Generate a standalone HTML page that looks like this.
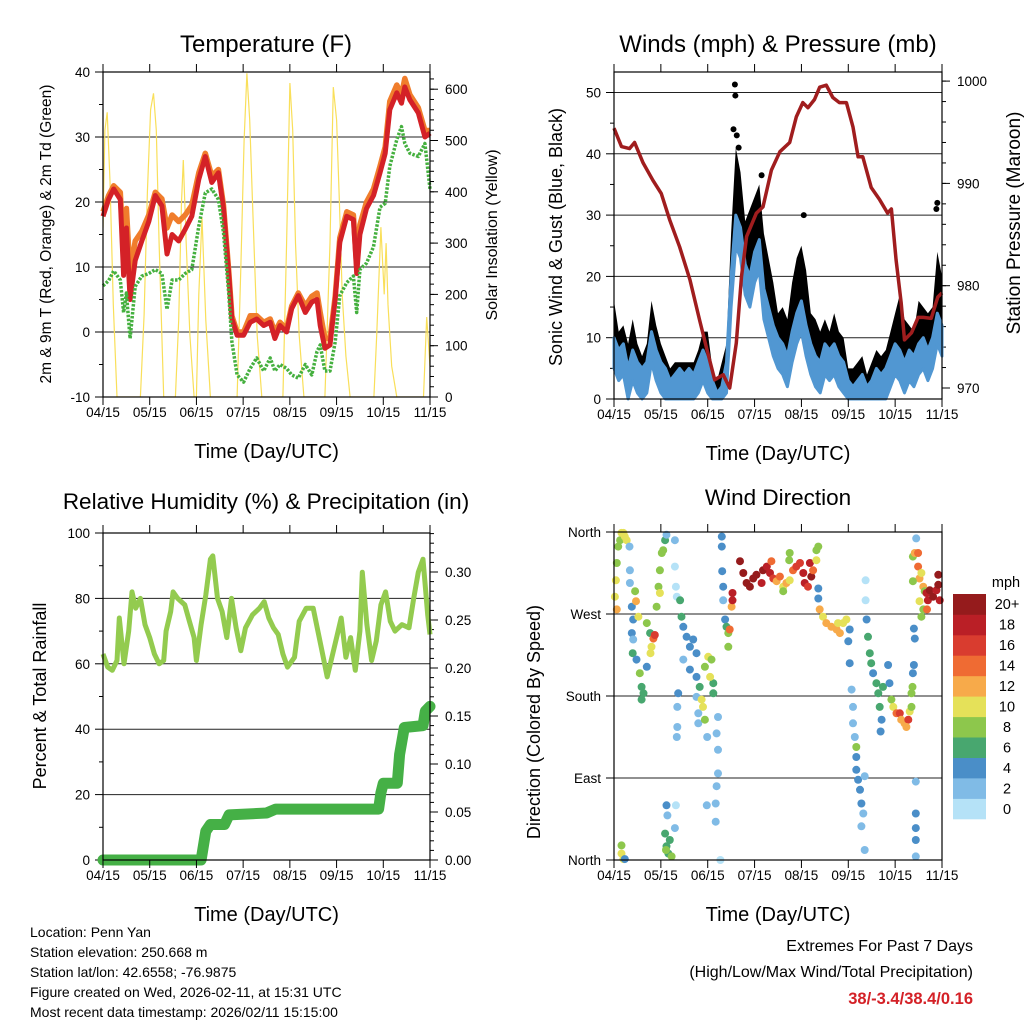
<!DOCTYPE html>
<html><head><meta charset="utf-8"><style>
html,body{margin:0;padding:0;background:#fff}
svg{display:block;font-family:"Liberation Sans",Arial,sans-serif}
</style></head><body>
<svg id="chart" width="1024" height="1024" viewBox="0 0 1024 1024" xmlns="http://www.w3.org/2000/svg"></svg>
<script>
// ---------- shared x ticks (tick index units: one unit per labelled tick) ----------
const xTickLabels = ['04/15','05/15','06/15','07/15','08/15','09/15','10/15','11/15'];

// ---------- Temperature panel ----------
const tempT = [0,.12,.23,.37,.44,.5,.58,.69,.83,.98,1.12,1.26,1.37,1.48,1.62,1.76,1.9,2.05,2.19,2.33,2.47,2.58,2.69,2.76,2.87,3.01,3.15,3.29,3.44,3.58,3.68,3.79,3.93,4.04,4.18,4.33,4.47,4.58,4.65,4.75,4.86,4.97,5.07,5.22,5.36,5.43,5.5,5.64,5.79,5.93,6.04,6.14,6.29,6.39,6.46,6.57,6.75,6.89,7];
const temp2m = [17.8,20.4,22,20.4,8.7,16,5,11,14,17,21,19.4,12,15,14,15.8,17.8,23.5,27,23,24.5,19,9,2,-0.5,-0.5,1.5,2,1,1.5,-1,1,0,3.6,5.6,3,4.6,5,1,-2.5,-2,5,13.8,17.8,17.3,9,15,19,21,24.5,27.5,34.2,36.8,35.2,37.7,35.7,33.7,30,30.6];
const temp9m = [18.5,21,22.5,21.5,12,19,9,14,15.5,18,21.5,20.5,16,18,17,18,19.5,24.5,27.5,24,25,19.5,9.5,2.5,0,0,2.5,2.5,1.5,2,0,1.5,0.5,4,6,4,5.5,6,3,-1,-1,5.5,14.5,18.5,18,10,16.5,20,22,25.5,28.5,35.5,38,36.5,39,36.5,34.5,31,31];
const dew2m = [7.1,7.9,9.4,8,3,6,-1,7,8.6,9,9.6,9,3.5,8,8,9,9.6,16.3,21.4,22,20.4,15.3,6,-1.5,-6.6,-7.7,-5.6,-4,-6,-4,-6,-5,-5.6,-6.6,-7.1,-5,-6.6,-3,-2,-6,-6,-1.5,5.6,7.6,8.6,3,9.6,10.6,13.1,19.2,19.8,25.5,29.6,31.6,29,27.5,27,29,22];
const solarT = [0,.04,.09,.15,.22,.3,.8,.88,.95,1.02,1.08,1.14,1.2,1.3,1.55,1.62,1.68,1.72,1.78,1.86,1.95,2.0,2.05,2.12,2.2,2.3,2.45,2.6,2.72,2.87,2.95,3.02,3.08,3.14,3.2,3.3,3.4,3.7,3.85,3.93,4.0,4.06,4.12,4.2,4.3,4.4,4.75,4.86,4.93,5.0,5.06,5.12,5.2,5.29,5.4,5.8,5.86,5.95,6.02,6.06,6.1,6.18,6.29,6.5,6.86,6.93,7];
const solarV = [330,520,555,420,180,0,0,160,400,560,592,520,300,0,0,150,380,462,300,120,0,0,200,350,150,0,0,0,0,0,250,500,631,540,380,120,0,0,0,300,612,520,300,120,0,0,0,300,604,540,380,200,80,0,0,0,120,331,200,300,180,60,0,0,0,156,60];

// ---------- Winds panel ----------
const windT = [0,.1,.2,.3,.4,.5,.6,.7,.8,.9,1,1.1,1.2,1.3,1.4,1.5,1.6,1.7,1.8,1.9,2,2.1,2.2,2.3,2.4,2.5,2.6,2.7,2.8,2.9,3,3.1,3.2,3.3,3.4,3.5,3.6,3.7,3.8,3.9,4,4.1,4.2,4.3,4.4,4.5,4.6,4.7,4.8,4.9,5,5.1,5.2,5.3,5.4,5.5,5.6,5.7,5.8,5.9,6,6.1,6.2,6.3,6.4,6.5,6.6,6.7,6.8,6.9,7];
const windSpeed = [10,8,9,5,8,6,5,6,11,8,6,5,3,4,5,4,5,4,6,8,6,3,1,2,6,20,30,28,22,20,24,26,18,15,12,10,9,7,11,14,16,12,9,7,6,9,8,9,7,6,3,2,3,4,2,3,5,4,5,7,9,8,6,8,7,9,10,8,10,14,12];
const windGust = [17,12,13,10,14,10,8,10,17,13,10,8,6,7,7,7,7,7,9,12,12,6,4,7,10,28,42,38,30,32,34,36,28,24,20,15,16,14,20,24,26,22,15,14,12,14,12,15,12,11,6,6,7,8,5,7,9,8,9,12,15,18,14,13,12,17,16,15,16,25,21];
const gustPeakT = [2.58,2.59,2.55,2.62,2.66,3.15,4.05,6.88,6.9];
const gustPeakV = [51.3,49.5,44,43,41,36.5,30,31,32];
const presT = [0,.16,.33,.44,.62,.83,1.01,1.19,1.4,1.62,1.83,1.97,2.15,2.33,2.47,2.61,2.72,2.83,3.04,3.18,3.36,3.54,3.75,3.89,4.03,4.14,4.28,4.39,4.53,4.67,4.81,4.96,5.1,5.21,5.31,5.49,5.67,5.84,5.92,6.02,6.13,6.2,6.35,6.49,6.6,6.77,6.91,7];
const presV = [995.4,993.6,993.4,994,992,990.3,989,986.4,983.8,980.6,976.6,974,970.8,971.3,970,974.4,980.9,984.8,987.1,987.7,991.3,993.1,994,996.5,997.9,997.4,998.2,999.4,999.6,998.4,997.9,997.9,995.5,992.6,992.6,989.6,988.4,987.1,987.5,982.5,978.3,974.7,975.4,976.9,976.9,976.8,978.9,979.3];

// ---------- Humidity / precip panel ----------
const rhT = [0,.1,.2,.3,.35,.45,.55,.62,.7,.8,.9,1,1.1,1.2,1.3,1.35,1.45,1.5,1.6,1.75,1.85,1.95,2,2.1,2.2,2.3,2.35,2.45,2.55,2.65,2.75,2.85,2.95,3.05,3.2,3.35,3.45,3.55,3.65,3.75,3.85,3.95,4.1,4.2,4.35,4.5,4.6,4.7,4.8,4.9,5,5.1,5.2,5.3,5.4,5.5,5.55,5.65,5.75,5.85,5.95,6.05,6.15,6.25,6.4,6.55,6.65,6.75,6.85,6.95,7];
const rhV = [63,59,58,61,74,60,70,82,77,80,72,68,63,60,61,70,76,82,80,78,73,68,61,72,81,92,93,80,76,68,80,71,64,71,75,77,79,74,71,69,63,59,62,73,77,77,70,63,56,62,68,74,62,68,58,70,88,72,61,67,78,82,73,70,72,71,80,88,92,75,69];
const rainT = [0,2.1,2.2,2.3,2.6,2.7,3.5,3.7,5.9,5.95,6.0,6.3,6.35,6.45,6.85,6.9,7];
const rainV = [0,0,0.03,0.037,0.037,0.047,0.049,0.053,0.053,0.07,0.08,0.08,0.11,0.138,0.14,0.155,0.16];

// ---------- Wind direction panel ----------
const wdT = [.02,.04,.06,.09,.13,.16,.2,.23,.27,.06,.33,.34,.34,.38,.41,.38,.41,.45,.47,.52,.4,.48,.55,.59,.63,.59,.7,.7,.77,.84,.8,.87,.78,.91,.95,.98,1.02,1.05,1.09,.98,1.12,1.3,1.3,1.32,1.34,1.37,1.35,1.35,1.34,1.41,1.44,1.48,1.55,1.62,1.69,1.76,1.48,1.62,1.76,1.76,1.8,1.8,1.83,1.87,1.9,1.94,2.01,2.08,2.12,2.12,1.94,1.99,2.05,2.22,2.19,2.22,2.22,2.19,2.17,2.17,1.98,2.3,2.3,2.31,2.33,2.33,2.37,2.4,2.44,2.47,2.44,2.51,2.53,2.53,2.27,.16,.16,.2,.23,1.09,1.12,1.16,1.19,1.23,1.11,1.12,1.14,1.3,1.32,2.69,2.76,2.83,2.9,2.97,3.04,3.15,3.18,3.26,3.33,3.36,3.4,3.47,3.54,3.61,3.68,3.75,3.75,3.82,3.89,3.97,4.04,4.07,4.14,4.18,4.21,4.25,4.32,4.32,4.36,4.36,4.36,3.74,3.61,4.39,4.46,4.53,4.64,4.75,4.82,4.89,4.96,4.78,5.03,5.0,5.03,5.07,5.1,5.1,5.14,5.17,5.17,5.17,5.21,5.25,5.28,5.32,5.28,5.35,5.35,5.37,5.37,5.39,5.42,5.46,5.49,5.53,5.6,5.64,5.67,5.71,5.69,5.74,5.85,5.88,5.92,5.96,6.03,6.1,6.13,6.2,6.28,6.24,6.31,6.35,6.35,6.37,6.38,6.4,6.38,6.42,6.49,6.49,6.52,6.56,6.6,6.63,6.67,6.7,6.74,6.81,6.88,6.92,6.92,6.95,6.6,6.56,6.52,6.68,6.45,6.4,6.42,6.44,6.44,6.44,6.44,6.44,6.38];
const wdDir = [289,307,326,344,351,359,359,355,351,275,344,318,304,278,264,249,242,295,284,267,227,220,205,190,183,176,212,260,249,243,234,247,227,278,300,318,337,340,351,293,357,351,322,300,289,183,168,146,135,285,267,256,245,234,242,227,220,209,201,179,161,150,190,176,168,212,223,220,194,183,154,135,201,157,139,121,95,81,62,42,60,355,344,317,300,285,264,256,249,253,234,278,293,285,0,16,7,1,1,29,15,7,22,4,11,60,49,35,60,328,315,304,300,309,313,304,318,322,315,328,309,306,311,300,304,307,337,318,322,326,315,304,300,326,311,318,329,340,344,298,287,329,295,275,267,260,256,253,249,260,264,260,253,240,216,187,168,150,135,124,113,99,88,77,62,51,37,11,92,307,285,264,245,227,216,205,194,183,168,154,141,190,214,194,176,168,161,161,154,150,154,146,163,168,183,190,205,214,333,337,337,322,309,315,300,295,293,285,296,289,296,302,313,285,275,267,284,275,353,254,243,86,51,35,22,4,306];
const wdSpd = [10,10,8,8,8,10,10,10,10,12,2,2,2,4,4,4,2,8,12,10,6,4,8,6,6,6,4,8,6,14,10,16,10,8,8,8,8,8,6,10,2,2,0,0,0,4,2,2,2,6,6,4,4,4,4,4,2,4,4,2,2,2,6,10,10,8,10,8,6,6,8,2,10,2,2,2,2,2,2,2,2,4,4,4,4,2,4,6,8,14,8,12,18,18,0,8,10,10,4,6,6,6,6,8,8,4,2,2,0,20,20,20,20,20,20,18,20,18,18,14,16,12,14,10,12,10,8,14,16,16,18,18,16,18,20,14,10,8,8,4,4,8,8,12,10,12,12,12,12,10,10,10,4,4,4,2,2,2,2,8,4,4,4,4,4,2,2,2,2,0,0,4,6,6,6,4,6,6,6,4,4,6,4,4,8,10,14,16,12,12,16,12,10,8,8,8,4,4,8,12,14,14,12,10,12,8,18,18,20,20,18,20,20,18,8,8,10,14,2,4,4,2,4,4,4,2,8];
const speedBinLabels = ['0','2','4','6','8','10','12','14','16','18','20+'];
const speedBinColors = ['#b5e2f7','#80bbe6','#4a8ec8','#48a76f','#8dc74c','#e5e159','#f7aa4a','#ef6b33','#d93c2f','#ba1f26','#951b1c'];

// ---------- helpers ----------
const NS = 'http://www.w3.org/2000/svg';
const svg = document.getElementById('chart');
function mk(tag, attrs, parent) {
  const el = document.createElementNS(NS, tag);
  for (const k in attrs) el.setAttribute(k, attrs[k]);
  (parent || svg).appendChild(el);
  return el;
}
function txt(s, x, y, size, anchor, extra) {
  const el = mk('text', Object.assign({x: x, y: y, 'font-size': size, 'text-anchor': anchor || 'middle', fill: '#000'}, extra || {}));
  el.textContent = s;
  return el;
}
function pts(ts, vs, fx, fy) { return ts.map((t, i) => fx(t).toFixed(1) + ',' + fy(vs[i]).toFixed(1)).join(' '); }

const P = {
  temp: {L: 103, R: 430, T: 72, B: 397},
  wind: {L: 614, R: 942, T: 72, B: 399},
  rh:   {L: 103, R: 430, T: 533, B: 860},
  dir:  {L: 614, R: 942, T: 532, B: 860}
};
function xScale(p) { return t => p.L + t * (p.R - p.L) / 7; }

function frameAndXTicks(p, key) {
  const g = mk('g', {});
  
  
  const fx = xScale(p);
  for (let i = 0; i < xTickLabels.length; i++) {
    const x = fx(i);
    const tb = mk('line', {x1: x, x2: x, y1: p.B, y2: p.B + 8, stroke: '#000', 'stroke-width': 1}, g);
    
    
    const tt = mk('line', {x1: x, x2: x, y1: p.T, y2: p.T - 8, stroke: '#000', 'stroke-width': 1}, g);
    
    
    const lb = txt(xTickLabels[i], x, p.B + 20, 13.5);
    
    
  }
  const at = txt('Time (Day/UTC)', (p.L + p.R) / 2, p.B + 61, 20);
  
  
}
function frame(p, key) {
  const r = mk('rect', {x: p.L, y: p.T, width: p.R - p.L, height: p.B - p.T, fill: 'none', stroke: '#000', 'stroke-width': 1.2});
  
  
}
function yAxis(p, key, side, vals, labels, fy, minorVals, grid) {
  const sgn = side === 'left' ? -1 : 1;
  const x0 = side === 'left' ? p.L : p.R;
  vals.forEach((v, i) => {
    const y = fy(v);
    const tk = mk('line', {x1: x0, x2: x0 + sgn * 8, y1: y, y2: y, stroke: '#000', 'stroke-width': 1});
    
    
    if (grid && y > p.T + 2 && y < p.B - 2) {
      const gl = mk('line', {x1: p.L, x2: p.R, y1: y, y2: y, stroke: '#222', 'stroke-width': 1});
      
      
    }
    const lb = txt(labels[i], side === 'left' ? x0 - 13 : x0 + 15, y + 5, 13.5, side === 'left' ? 'end' : 'start');
    
    
  });
  minorVals.forEach(v => {
    const y = fy(v);
    const mt = mk('line', {x1: x0, x2: x0 + sgn * 4, y1: y, y2: y, stroke: '#000', 'stroke-width': 1});
    
    
  });
}
function vtitle(s, x, y, size) {
  return txt(s, x, y, size, 'middle', {transform: 'rotate(-90 ' + x + ' ' + y + ')'});
}
function range(a, b, s) { const r = []; for (let v = a; v <= b + 1e-9; v += s) r.push(+v.toFixed(4)); return r; }

// ================= Panel 1: Temperature =================
(function () {
  const p = P.temp, fx = xScale(p);
  const fy = v => p.B - (v + 10) * (p.B - p.T) / 50;
  const fs = v => p.B - v * 0.513;
  const clip = mk('clipPath', {id: 'clipTemp'});
  mk('rect', {x: p.L, y: p.T, width: p.R - p.L, height: p.B - p.T}, clip);
  yAxis(p, 'temp', 'left', [-10,0,10,20,30,40], ['-10','0','10','20','30','40'], fy, range(-5, 35, 10), true);
  yAxis(p, 'temp', 'right', [0,100,200,300,400,500,600], ['0','100','200','300','400','500','600'], fs, range(20, 620, 20), false);
  const sol = mk('polyline', {points: pts(solarT, solarV, fx, fs), fill: 'none', stroke: '#f9df5a', 'stroke-width': 1.2, 'clip-path': 'url(#clipTemp)'});
  
  
  const o = mk('polyline', {points: pts(tempT, temp9m, fx, fy), fill: 'none', stroke: '#f07d2c', 'stroke-width': 5.5, 'stroke-linejoin': 'round'});
  
  
  const r = mk('polyline', {points: pts(tempT, temp2m, fx, fy), fill: 'none', stroke: '#d42127', 'stroke-width': 5, 'stroke-linejoin': 'round'});
  
  
  const gr = mk('polyline', {points: pts(tempT, dew2m, fx, fy), fill: 'none', stroke: '#45b03f', 'stroke-width': 3.5, 'stroke-dasharray': '2.5 1.5', 'stroke-linejoin': 'round'});
  
  
  frame(p, 'temp');
  frameAndXTicks(p, 'temp');
  const t = txt('Temperature (F)', 266, 52, 24);
  
  
  const yl = vtitle('2m & 9m T (Red, Orange) & 2m Td (Green)', 51, 234, 15.5);
  
  
  const yr = vtitle('Solar Insolation (Yellow)', 497, 235, 16);
  
  
})();

// ================= Panel 2: Winds & Pressure =================
(function () {
  const p = P.wind, fx = xScale(p);
  const fy = v => p.B - v * 6.13;
  const fp = v => 388 - (v - 970) * 10.23;
  yAxis(p, 'wind', 'left', [0,10,20,30,40,50], ['0','10','20','30','40','50'], fy, range(5, 45, 10), true);
  yAxis(p, 'wind', 'right', [970,980,990,1000], ['970','980','990','1000'], fp, range(970, 1000, 2), false);
  const top = windT.map((t, i) => fx(t).toFixed(1) + ',' + fy(windGust[i] - 1).toFixed(1));
  const bot = windT.map((t, i) => fx(t).toFixed(1) + ',' + fy(Math.max(0, windSpeed[i] - 2)).toFixed(1)).reverse();
  const gb = mk('polygon', {points: top.concat(bot).join(' '), fill: '#000', stroke: 'none'});
  
  
  const btop = windT.map((t, i) => fx(t).toFixed(1) + ',' + fy(windSpeed[i]).toFixed(1));
  const bbot = windT.map((t, i) => fx(t).toFixed(1) + ',' + fy(Math.max(0, windSpeed[i] - 5)).toFixed(1)).reverse();
  const bb = mk('polygon', {points: btop.concat(bbot).join(' '), fill: '#5197d2', stroke: '#5197d2', 'stroke-width': 3, 'stroke-linejoin': 'round'});
  
  
  gustPeakT.forEach((t, i) => {
    const c = mk('circle', {cx: fx(t), cy: fy(gustPeakV[i]), r: 3, fill: '#000'});
    
    
  });
  const pl = mk('polyline', {points: pts(presT, presV, fx, fp), fill: 'none', stroke: '#a01d1e', 'stroke-width': 3.5, 'stroke-linejoin': 'round'});
  
  
  frame(p, 'wind');
  frameAndXTicks(p, 'wind');
  const t = txt('Winds (mph) & Pressure (mb)', 778, 52, 24);
  
  
  const yl = vtitle('Sonic Wind & Gust (Blue, Black)', 562, 237, 18);
  
  
  const yr = vtitle('Station Pressure (Maroon)', 1020, 223, 19);
  
  
})();

// ================= Panel 3: Humidity & Precip =================
(function () {
  const p = P.rh, fx = xScale(p);
  const fy = v => p.B - v * (p.B - p.T) / 100;
  const fr = v => p.B - v * 960;
  yAxis(p, 'rh', 'left', [0,20,40,60,80,100], ['0','20','40','60','80','100'], fy, range(10, 90, 20), true);
  yAxis(p, 'rh', 'right', [0,0.05,0.10,0.15,0.20,0.25,0.30], ['0.00','0.05','0.10','0.15','0.20','0.25','0.30'], fr, range(0.01, 0.34, 0.01), false);
  const rh = mk('polyline', {points: pts(rhT, rhV, fx, fy), fill: 'none', stroke: '#93cb4f', 'stroke-width': 5, 'stroke-linejoin': 'round'});
  
  
  const rn = mk('polyline', {points: pts(rainT, rainV, fx, fr), fill: 'none', stroke: '#45b046', 'stroke-width': 11, 'stroke-linejoin': 'round', 'stroke-linecap': 'round'});
  
  
  frame(p, 'rh');
  frameAndXTicks(p, 'rh');
  const t = txt('Relative Humidity (%) & Precipitation (in)', 266, 509, 22.5);
  
  
  const yl = vtitle('Percent & Total Rainfall', 46, 696, 18);
  
  
})();

// ================= Panel 4: Wind Direction =================
(function () {
  const p = P.dir, fx = xScale(p);
  const fy = v => p.B - v * (p.B - p.T) / 360;
  yAxis(p, 'dir', 'left', [0,90,180,270,360], ['North','East','South','West','North'], fy, [], true);
  wdT.forEach((t, i) => {
    const bin = Math.min(10, Math.floor(wdSpd[i] / 2));
    const c = mk('circle', {cx: fx(t).toFixed(1), cy: fy(wdDir[i]).toFixed(1), r: 4, fill: speedBinColors[bin]});
    
    
  });
  frame(p, 'dir');
  frameAndXTicks(p, 'dir');
  const t = txt('Wind Direction', 778, 505, 22.5);
  
  
  const yl = vtitle('Direction (Colored By Speed)', 540, 722, 18);
  
  
  const cbT = 594, cbB = 819, h = (cbB - cbT) / speedBinColors.length;
  speedBinColors.forEach((c, i) => {
    const y = cbB - (i + 1) * h;
    const r = mk('rect', {x: 953, y: y.toFixed(1), width: 33, height: (h + 0.3).toFixed(1), fill: c});
    
    
    const lb = txt(speedBinLabels[i], 1007, y + h / 2 + 5, 14.5);
    
    
  });
  const u = txt('mph', 1006, 587, 14.5);
  
  
})();

// ================= Footer text =================
const infoLines = ['Location: Penn Yan','Station elevation: 250.668 m','Station lat/lon: 42.6558; -76.9875','Figure created on Wed, 2026-02-11, at 15:31 UTC','Most recent data timestamp: 2026/02/11 15:15:00'];
infoLines.forEach((s, i) => {
  const el = txt(s, 30, 937 + i * 20, 14, 'start');
  
  
});
const ex1 = txt('Extremes For Past 7 Days', 973, 951, 16, 'end');


const ex2 = txt('(High/Low/Max Wind/Total Precipitation)', 973, 977, 16, 'end');


const ex3 = txt('38/-3.4/38.4/0.16', 973, 1004, 16.5, 'end', {fill: '#d42127', 'font-weight': 'bold'});


</script>
</body></html>
